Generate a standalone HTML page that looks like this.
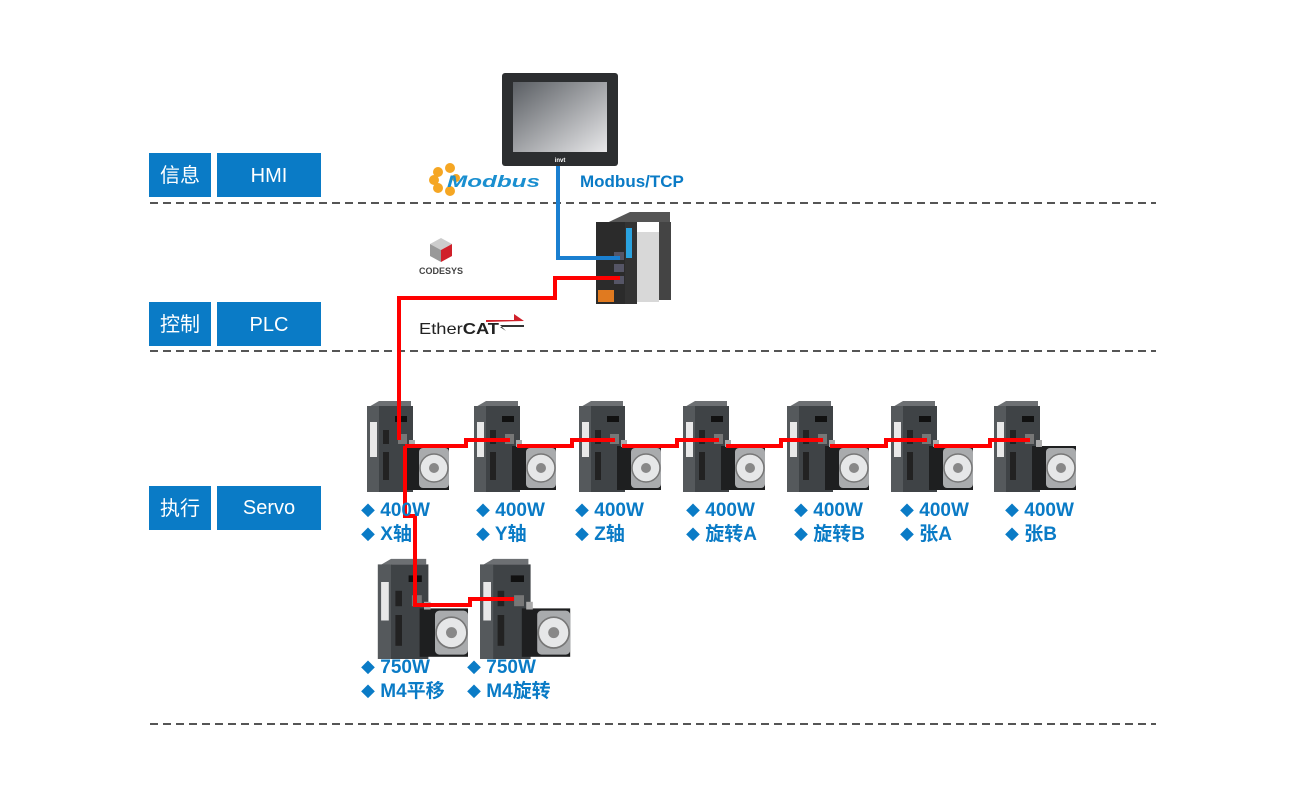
<!DOCTYPE html>
<html><head><meta charset="utf-8"><style>
html,body{margin:0;padding:0;background:#fff;width:1300px;height:800px;overflow:hidden}
svg text{font-family:"Liberation Sans","Noto Sans CJK SC",sans-serif}
</style></head><body>
<svg width="1300" height="800" viewBox="0 0 1300 800" xmlns="http://www.w3.org/2000/svg">
<defs>
<linearGradient id="scr" x1="0" y1="0" x2="1" y2="1"><stop offset="0" stop-color="#5a5e63"/><stop offset="1" stop-color="#e8e8ea"/></linearGradient>
<g id="servo">
 <polygon points="2,8 14,1 46,1 46,6 14,6" fill="#6d7073"/>
 <rect x="2" y="6" width="13" height="86" fill="#55595c"/>
 <rect x="5" y="22" width="7" height="35" fill="#e8e8e8"/>
 <rect x="14" y="6" width="34" height="86" fill="#3f4346"/>
 <rect x="30" y="16" width="12" height="6" fill="#111"/>
 <rect x="18" y="30" width="6" height="14" fill="#222"/>
 <rect x="18" y="52" width="6" height="28" fill="#222"/>
 <rect x="33" y="34" width="9" height="10" fill="#777"/>
 <rect x="40" y="46" width="44" height="44" fill="#1e1f20"/>
 <rect x="54" y="48" width="30" height="40" rx="4" fill="#a9abad"/>
 <circle cx="69" cy="68" r="14" fill="#e6e7e8" stroke="#777" stroke-width="1.5"/>
 <circle cx="69" cy="68" r="5" fill="#888"/>
 <rect x="44" y="40" width="6" height="7" fill="#aaa"/>
</g>
</defs>

<g stroke="#555" stroke-width="2" stroke-dasharray="8,5">
<line x1="150" y1="203" x2="1156" y2="203"/>
<line x1="150" y1="351" x2="1156" y2="351"/>
<line x1="150" y1="724" x2="1156" y2="724"/>
</g>

<g fill="#0a7bc6">
<rect x="149" y="153" width="62" height="44"/><rect x="217" y="153" width="104" height="44"/>
<rect x="149" y="302" width="62" height="44"/><rect x="217" y="302" width="104" height="44"/>
<rect x="149" y="486" width="62" height="44"/><rect x="217" y="486" width="104" height="44"/>
</g>
<g fill="#fff" font-size="20" text-anchor="middle">
<text x="180" y="182">信息</text><text x="269" y="182">HMI</text>
<text x="180" y="331">控制</text><text x="269" y="331">PLC</text>
<text x="180" y="515">执行</text><text x="269" y="514">Servo</text>
</g>

<rect x="502" y="73" width="116" height="93" rx="3" fill="#2c2e30"/>
<rect x="513" y="82" width="94" height="70" fill="url(#scr)"/>
<text x="560" y="162" font-size="6" fill="#fff" text-anchor="middle" font-weight="bold">invt</text>

<g fill="#f5a623"><circle cx="438" cy="172" r="5"/><circle cx="450" cy="168" r="5"/><circle cx="438" cy="188" r="5"/><circle cx="450" cy="191" r="5"/><circle cx="434" cy="180" r="5"/><circle cx="456" cy="178" r="4"/></g>
<text x="447" y="187" font-size="17" font-weight="bold" font-style="italic" fill="#1a8fd0" textLength="93" lengthAdjust="spacingAndGlyphs">Modbus</text>
<text x="580" y="187" font-size="17" font-weight="bold" fill="#0a7bc6">Modbus/TCP</text>

<polygon points="441,238 452,244 441,250 430,244" fill="#ccc"/>
<polygon points="430,244 441,250 441,262 430,256" fill="#999"/>
<polygon points="441,250 452,244 452,256 441,262" fill="#d0202a"/>
<text x="441" y="274" font-size="9" font-weight="bold" fill="#444" text-anchor="middle">CODESYS</text>

<text x="419" y="334" font-size="16" fill="#222" textLength="80" lengthAdjust="spacingAndGlyphs">Ether<tspan font-weight="bold">CAT</tspan></text>
<polygon points="486,320 514,320 514,314 524,321 486,322" fill="#d0202a"/>
<polygon points="500,325 524,325 524,327 500,327 506,331" fill="#333"/>

<polygon points="596,228 630,212 670,212 670,222 630,222" fill="#555"/>
<rect x="596" y="222" width="30" height="82" fill="#2b2b2b"/>
<rect x="625" y="222" width="12" height="82" fill="#333"/>
<rect x="626" y="228" width="6" height="30" fill="#2aa3e0"/>
<rect x="637" y="232" width="22" height="70" fill="#d8d8d8"/>
<rect x="659" y="222" width="12" height="78" fill="#444"/>
<rect x="614" y="252" width="10" height="8" fill="#556"/>
<rect x="614" y="264" width="10" height="8" fill="#556"/>
<rect x="614" y="276" width="10" height="8" fill="#556"/>
<rect x="598" y="290" width="16" height="12" fill="#e07a20"/>

<polyline points="558,166 558,258 620,258" fill="none" stroke="#1a7fd0" stroke-width="4"/>

<use href="#servo" x="365" y="400"/>
<use href="#servo" x="472" y="400"/>
<use href="#servo" x="577" y="400"/>
<use href="#servo" x="681" y="400"/>
<use href="#servo" x="785" y="400"/>
<use href="#servo" x="889" y="400"/>
<use href="#servo" x="992" y="400"/>
<use href="#servo" x="376" y="558" transform="translate(-38 -56) scale(1.1)"/>
<use href="#servo" x="478" y="558" transform="translate(-48 -56) scale(1.1)"/>

<g fill="none" stroke="#f00" stroke-width="4">
<polyline points="620,278 555,278 555,298 399,298 399,440"/>
<polyline points="405,446 466,446 466,440 510,440"/>
<polyline points="517,446 572,446 572,440 615,440"/>
<polyline points="622,446 677,446 677,440 719,440"/>
<polyline points="726,446 781,446 781,440 823,440"/>
<polyline points="830,446 886,446 886,440 927,440"/>
<polyline points="934,446 990,446 990,440 1030,440"/>
<polyline points="405,446 405,516 415,516 415,605 470,605 470,599 514,599"/>
</g>

<g font-size="19" font-weight="bold" fill="#0a7bc6">
<text x="361" y="516"><tspan font-size="14">◆</tspan> 400W</text><text x="361" y="540"><tspan font-size="14">◆</tspan> X轴</text>
<text x="476" y="516"><tspan font-size="14">◆</tspan> 400W</text><text x="476" y="540"><tspan font-size="14">◆</tspan> Y轴</text>
<text x="575" y="516"><tspan font-size="14">◆</tspan> 400W</text><text x="575" y="540"><tspan font-size="14">◆</tspan> Z轴</text>
<text x="686" y="516"><tspan font-size="14">◆</tspan> 400W</text><text x="686" y="540"><tspan font-size="14">◆</tspan> 旋转A</text>
<text x="794" y="516"><tspan font-size="14">◆</tspan> 400W</text><text x="794" y="540"><tspan font-size="14">◆</tspan> 旋转B</text>
<text x="900" y="516"><tspan font-size="14">◆</tspan> 400W</text><text x="900" y="540"><tspan font-size="14">◆</tspan> 张A</text>
<text x="1005" y="516"><tspan font-size="14">◆</tspan> 400W</text><text x="1005" y="540"><tspan font-size="14">◆</tspan> 张B</text>
<text x="361" y="673"><tspan font-size="14">◆</tspan> 750W</text><text x="361" y="697"><tspan font-size="14">◆</tspan> M4平移</text>
<text x="467" y="673"><tspan font-size="14">◆</tspan> 750W</text><text x="467" y="697"><tspan font-size="14">◆</tspan> M4旋转</text>
</g>
</svg>
</body></html>
